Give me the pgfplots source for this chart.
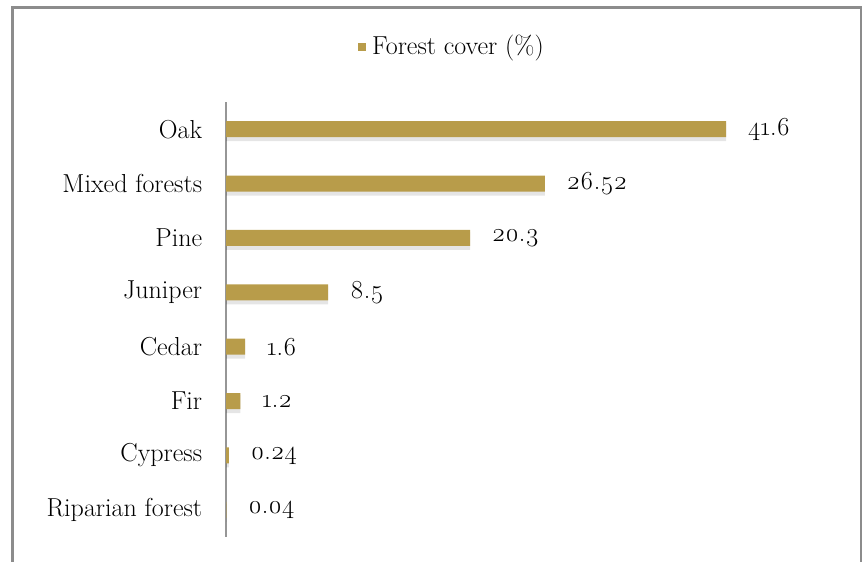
\documentclass[border=0pt]{standalone}
\usepackage{fontspec}
\setmainfont{Latin Modern Roman}[Numbers=OldStyle]
\usepackage{pgfplots}
\usepackage{pgfplotstable}
\pgfplotsset{compat=1.18}
\definecolor{gold}{RGB}{184,156,74}
\definecolor{axgray}{RGB}{150,150,150}
\definecolor{framegray}{RGB}{140,140,140}

\pgfplotstableread{
y x lab
7 41.6 41.6
6 26.52 26.52
5 20.3 20.3
4 8.5 8.5
3 1.6 1.6
2 1.2 1.2
1 0.24 0.24
0 0.04 0.04
}\datatable

\newcommand{\bigf}{\fontsize{26}{30}\selectfont}
\begin{document}
\bigf
\begin{tikzpicture}[x=1pt,y=1pt]
\useasboundingbox (0,0) rectangle (862,562);
\draw[framegray, line width=3pt] (12,0) -- (12,554) -- (861,554) -- (861,0);
\begin{axis}[at={(226pt,25pt)}, anchor=south west, scale only axis,
  width=601pt, height=435pt,
  xmin=0, xmax=50, ymin=-0.5, ymax=7.5,
  hide x axis, axis y line*=left,
  y axis line style={axgray, line width=2pt, -},
  ytick={0,...,7},
  yticklabels={Riparian forest, Cypress, Fir\ , Cedar, Juniper, Pine, Mixed forests\ , Oak},
  ytick style={draw=none},
  yticklabel style={xshift=-15pt, font=\bigf},
  legend style={at={(0.376,1.126)}, anchor=center, draw=none, fill=none,
    font=\bigf},
  legend image code/.code={\fill[gold] (0pt,-4pt) rectangle (8pt,4pt); \path (12pt,0pt);},
  clip=false,
]
\addplot[xbar, bar width=18pt, bar shift=-3pt, fill=black, fill opacity=0.10, draw=none, forget plot]
  table[x=x, y=y] {\datatable};
\addplot[xbar, bar width=16pt, bar shift=0pt, fill=gold, draw=none,
  point meta=explicit symbolic,
  nodes near coords,
  every node near coord/.append style={anchor=west, xshift=13pt, text=black,
    font=\bigf},
] table[x=x, y=y, meta=lab] {\datatable};
\addlegendentry{Forest cover (\%)}
\end{axis}
\end{tikzpicture}
\end{document}
